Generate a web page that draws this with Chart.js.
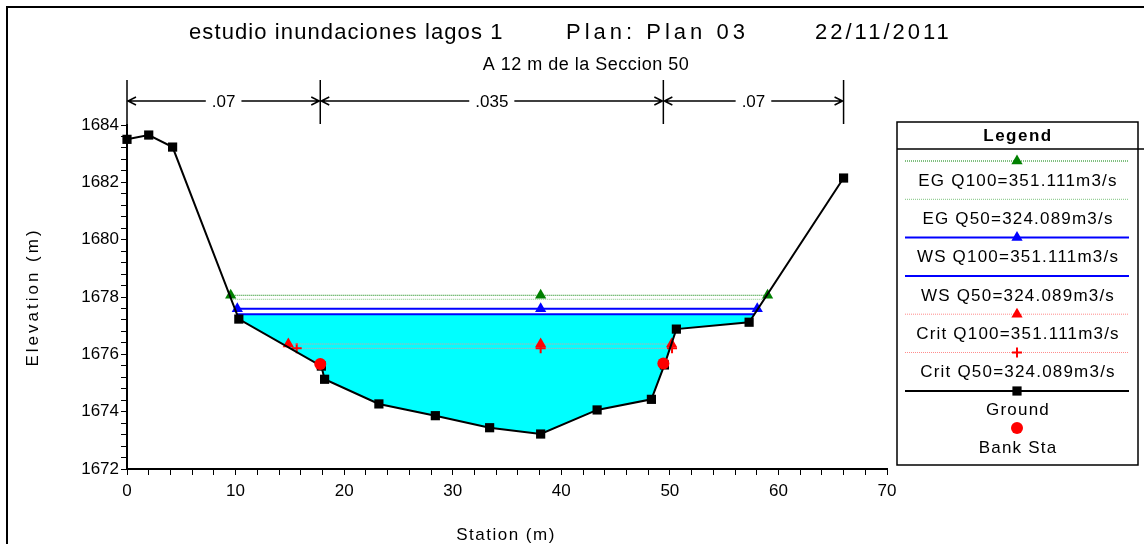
<!DOCTYPE html>
<html>
<head>
<meta charset="utf-8">
<script src="https://cdn.jsdelivr.net/npm/chart.js@4.4.1/dist/chart.umd.min.js"></script>
<style>
  html, body { margin: 0; padding: 0; background: #fff; }
  #wrap { width: 1144px; height: 544px; }
</style>
</head>
<body>
<div id="wrap"><canvas id="xsChart" width="1144" height="544"></canvas></div>
<script>
// Ground profile (station m, elevation m)
const stations   = [0, 2.0, 4.2, 10.3, 17.9, 18.2, 23.2, 28.4, 33.4, 38.1, 43.3, 48.3, 49.5, 50.6, 57.3, 66.0];
const groundElev = [1683.5, 1683.65, 1683.23, 1677.23, 1675.59, 1675.13, 1674.27, 1673.86, 1673.44, 1673.22, 1674.06, 1674.43, 1675.63, 1676.88, 1677.12, 1682.15];

// Bank stations
const bankSta  = [17.8, 49.4];
const bankElev = [1675.66, 1675.68];

// Water profiles
const profileNames = ['EG Q100=351.111m3/s', 'EG Q50=324.089m3/s', 'WS Q100=351.111m3/s',
                      'WS Q50=324.089m3/s', 'Crit Q100=351.111m3/s', 'Crit Q50=324.089m3/s'];
const profileElev  = [1678.06, 1677.92, 1677.59, 1677.40, 1676.36, 1676.21];
const profileLeft  = [9.55, 9.6, 10.16, 10.13, 14.86, 15.63];
const profileRight = [59.0, 58.7, 58.05, 57.8, 50.16, 50.2];
const profileMid   = 38.1;

// Manning n values between breaks
const manningSta = [0, 17.8, 49.4, 66];
const manningN   = ['.07', '.035', '.07'];

const FONT = "'Liberation Sans', Arial, sans-serif";

// styles for the profile lines
const profileStyle = [
  { color: '#008000', mark: '#008000', width: 1, dash: [1, 1], point: 'triangle' },
  { color: '#7ec47e', mark: '#7ec47e', width: 1, dash: [1, 1], point: false },
  { color: '#0000ff', mark: '#0000ff', width: 2, dash: [],     point: 'triangle' },
  { color: '#0000ff', mark: '#0000ff', width: 2, dash: [],     point: false },
  { color: '#ff8c8c', mark: '#ff0000', width: 1, dash: [1, 1], point: 'triangle' },
  { color: '#ff8c8c', mark: '#ff0000', width: 1, dash: [1, 1], point: 'cross' }
];

// wetted area below WS Q50, built from the ground profile
function waterArea(level) {
  const pts = [];
  for (let i = 0; i < stations.length - 1; i++) {
    const x1 = stations[i], y1 = groundElev[i], x2 = stations[i + 1], y2 = groundElev[i + 1];
    if (y1 < level) pts.push({ x: x1, y: y1 });
    if ((y1 - level) * (y2 - level) < 0) {
      const t = (level - y1) / (y2 - y1);
      pts.push({ x: x1 + t * (x2 - x1), y: level });
    }
  }
  return pts;
}

const datasets = [];

datasets.push({
  label: 'Bank Sta',
  data: bankSta.map((s, i) => ({ x: s, y: bankElev[i] })),
  showLine: false,
  pointStyle: 'circle', pointRadius: 6,
  pointBackgroundColor: '#ff0000', pointBorderColor: '#ff0000', pointBorderWidth: 0,
  order: 0, clip: false
});

datasets.push({
  label: 'Ground',
  data: stations.map((s, i) => ({ x: s, y: groundElev[i] })),
  borderColor: '#000', borderWidth: 2,
  pointStyle: 'rect', pointRadius: 6.5,
  pointBackgroundColor: '#000', pointBorderColor: '#000', pointBorderWidth: 0,
  order: 1, clip: false
});

profileNames.forEach((name, i) => {
  const st = profileStyle[i];
  datasets.push({
    label: name,
    data: [profileLeft[i], profileMid, profileRight[i]].map(s => ({ x: s, y: profileElev[i] })),
    borderColor: st.color, borderWidth: st.width, borderDash: st.dash,
    pointStyle: st.point || 'circle',
    pointRadius: st.point ? (st.point === 'cross' ? 5 : 6.5) : 0,
    pointBackgroundColor: st.mark, pointBorderColor: st.mark,
    pointBorderWidth: st.point === 'cross' ? 2 : 0,
    order: 2 + i, clip: false
  });
});

datasets.push({
  label: 'water',
  data: waterArea(profileElev[3]),
  borderWidth: 0, pointRadius: 0,
  backgroundColor: '#00ffff',
  fill: { target: { value: profileElev[3] } },
  order: 20, clip: false
});

function marker(ctx, style, x, y, r, color) {
  ctx.save();
  ctx.fillStyle = color; ctx.strokeStyle = color;
  ctx.setLineDash([]);
  ctx.beginPath();
  if (style === 'triangle') {
    ctx.moveTo(x, y - r);
    ctx.lineTo(x + r * 0.866, y + r * 0.5);
    ctx.lineTo(x - r * 0.866, y + r * 0.5);
    ctx.closePath(); ctx.fill();
  } else if (style === 'rect') {
    const h = r * Math.SQRT1_2;
    ctx.fillRect(x - h, y - h, 2 * h, 2 * h);
  } else if (style === 'circle') {
    ctx.arc(x, y, r, 0, Math.PI * 2); ctx.fill();
  } else if (style === 'cross') {
    ctx.lineWidth = 2;
    ctx.moveTo(x - r, y); ctx.lineTo(x + r, y);
    ctx.moveTo(x, y - r); ctx.lineTo(x, y + r);
    ctx.stroke();
  }
  ctx.restore();
}

const overlay = {
  id: 'overlay',
  afterDraw(chart) {
    const { ctx, scales: { x } } = chart;
    ctx.save();

    // outer frame
    ctx.strokeStyle = '#000';
    ctx.lineWidth = 2;
    ctx.strokeRect(7, 7, 1150, 560);

    // titles
    ctx.fillStyle = '#000';
    ctx.textBaseline = 'middle';
    ctx.textAlign = 'left';
    ctx.font = '22px ' + FONT;
    ctx.letterSpacing = '1.1px';
    ctx.fillText('estudio inundaciones lagos 1', 189, 33);
    ctx.letterSpacing = '4px';
    ctx.fillText('Plan: Plan 03', 566, 33);
    ctx.letterSpacing = '3px';
    ctx.fillText('22/11/2011', 815, 33);
    ctx.textAlign = 'center';
    ctx.font = '18px ' + FONT;
    ctx.letterSpacing = '0.5px';
    ctx.fillText('A 12 m de la Seccion 50', 586, 65);

    // axis titles
    ctx.font = '17px ' + FONT;
    ctx.letterSpacing = '1.5px';
    ctx.fillText('Station (m)', 506, 535);
    ctx.letterSpacing = '3px';
    ctx.save();
    ctx.translate(33, 297);
    ctx.rotate(-Math.PI / 2);
    ctx.fillText('Elevation (m)', 0, 0);
    ctx.restore();

    // Manning n breaks
    ctx.letterSpacing = '0px';
    ctx.lineWidth = 1.5;
    ctx.font = '17px ' + FONT;
    const ay = 101;
    manningSta.forEach(s => {
      const px = x.getPixelForValue(s);
      ctx.beginPath(); ctx.moveTo(px, 80); ctx.lineTo(px, 124); ctx.stroke();
    });
    for (let i = 0; i < manningN.length; i++) {
      const x1 = x.getPixelForValue(manningSta[i]);
      const x2 = x.getPixelForValue(manningSta[i + 1]);
      const mid = (x1 + x2) / 2;
      const w = ctx.measureText(manningN[i]).width;
      ctx.beginPath();
      ctx.moveTo(x1, ay); ctx.lineTo(mid - w / 2 - 6, ay);
      ctx.moveTo(mid + w / 2 + 6, ay); ctx.lineTo(x2, ay);
      ctx.moveTo(x1 + 9, ay - 4); ctx.lineTo(x1 + 1, ay); ctx.lineTo(x1 + 9, ay + 4);
      ctx.moveTo(x2 - 9, ay - 4); ctx.lineTo(x2 - 1, ay); ctx.lineTo(x2 - 9, ay + 4);
      ctx.stroke();
      ctx.fillText(manningN[i], mid, ay + 1);
    }

    // legend box
    const L = 897, T = 122, R = 1138, B = 465, cx = 1017;
    ctx.lineWidth = 1.5;
    ctx.strokeRect(L, T, R - L, B - T);
    ctx.beginPath(); ctx.moveTo(L, 149); ctx.lineTo(1144, 149); ctx.stroke();
    ctx.font = 'bold 17px ' + FONT;
    ctx.letterSpacing = '1.5px';
    ctx.fillText('Legend', cx + 1, 136);

    ctx.font = '17px ' + FONT;
    ctx.letterSpacing = '1.2px';
    profileNames.forEach((name, i) => {
      const st = profileStyle[i];
      const ly = 161 + i * 38.3;
      ctx.save();
      ctx.strokeStyle = st.color;
      ctx.lineWidth = st.width;
      ctx.setLineDash(st.dash);
      ctx.beginPath(); ctx.moveTo(905, ly); ctx.lineTo(1129, ly); ctx.stroke();
      ctx.restore();
      if (st.point) marker(ctx, st.point, cx, ly, st.point === 'cross' ? 5 : 6.5, st.mark);
      ctx.fillText(name, cx + 1, ly + 20);
    });
    // ground
    ctx.lineWidth = 2;
    ctx.beginPath(); ctx.moveTo(905, 391); ctx.lineTo(1129, 391); ctx.stroke();
    marker(ctx, 'rect', cx, 391, 6.5, '#000');
    ctx.fillText('Ground', cx + 1, 410);
    marker(ctx, 'circle', cx, 428, 6, '#ff0000');
    ctx.fillText('Bank Sta', cx + 1, 448);

    ctx.restore();
  }
};

const tickFont = { family: FONT, size: 17 };

new Chart(document.getElementById('xsChart'), {
  type: 'line',
  data: { datasets },
  options: {
    responsive: false,
    animation: false,
    layout: { padding: { top: 125, right: 257, left: 0, bottom: 0 } },
    plugins: { legend: { display: false }, tooltip: { enabled: false } },
    elements: { line: { tension: 0 } },
    scales: {
      x: {
        type: 'linear', min: 0, max: 70,
        ticks: {
          stepSize: 2, autoSkip: false, maxRotation: 0, color: '#000', font: tickFont, padding: 6,
          callback: v => (Math.abs(v % 10) < 1e-6 ? String(v) : '')
        },
        grid: { drawOnChartArea: false, tickLength: 6, color: '#000', lineWidth: 1 },
        border: { color: '#000', width: 2 },
        afterFit: s => { s.height = 75; }
      },
      y: {
        type: 'linear', min: 1672, max: 1684,
        ticks: {
          stepSize: 0.4, autoSkip: false, color: '#000', font: tickFont, padding: 2,
          callback: v => (Math.abs(v / 2 - Math.round(v / 2)) < 1e-6 ? String(Math.round(v)) : '')
        },
        grid: { drawOnChartArea: false, tickLength: 6, color: '#000', lineWidth: 1 },
        border: { color: '#000', width: 2 },
        afterFit: s => { s.width = 127; }
      }
    }
  },
  plugins: [overlay]
});
</script>
</body>
</html>
